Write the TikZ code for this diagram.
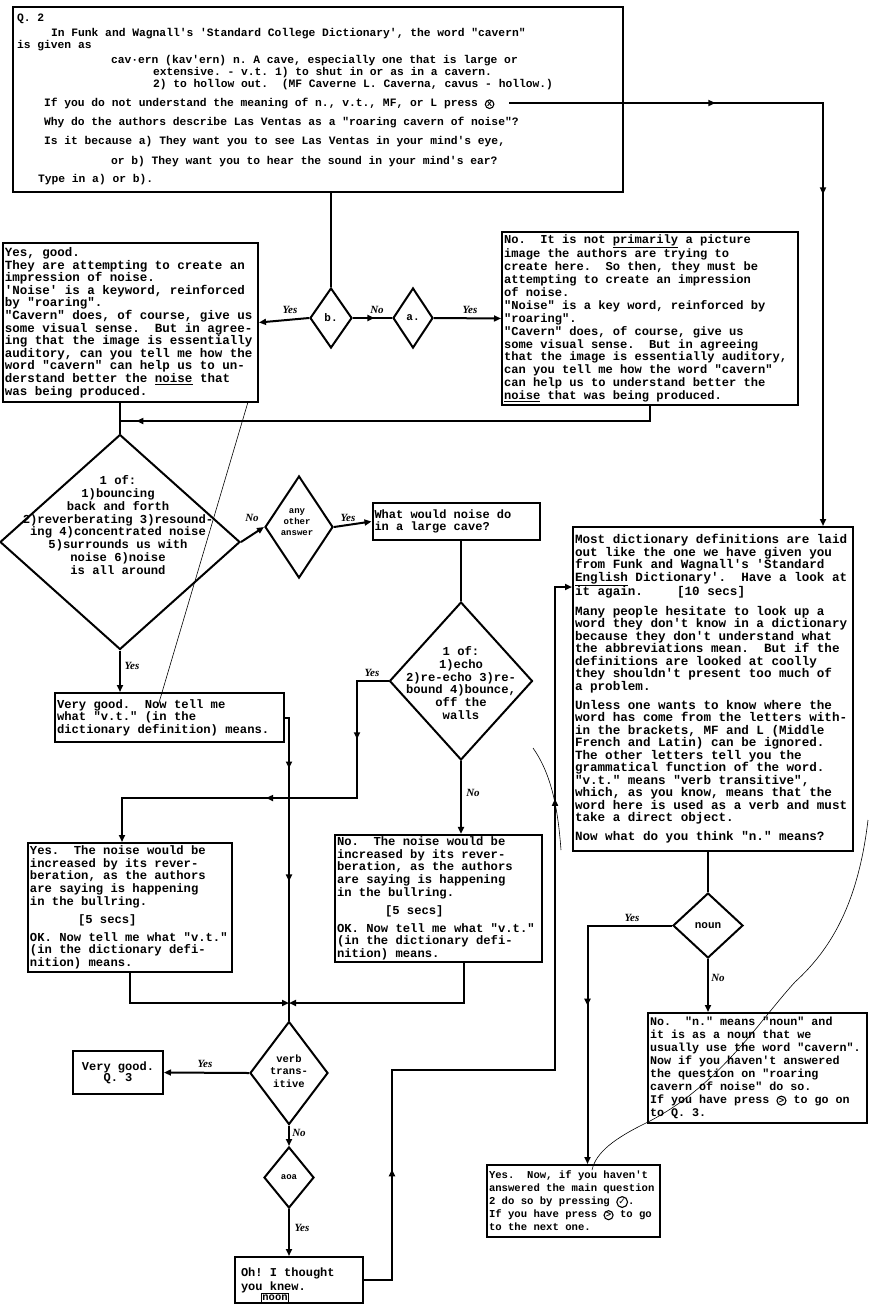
\documentclass[tikz,border=0pt]{standalone}
\usepackage{fontspec}
\setmainfont{Liberation Serif}
\setmonofont{Liberation Mono}
\newfontfamily\handfont{Liberation Serif}
\newfontfamily\symfont{DejaVu Sans}
\usepackage{tikz}
\usetikzlibrary{arrows.meta, shapes.geometric, decorations.markings}

% typewriter text with full-width spaces
\newcommand\typed[2]{\ttfamily\bfseries\fontsize{#1}{#2}\selectfont}
\newcommand\fullspaces{\spaceskip=0.6em\xspaceskip=0.6em\relax}
\newcommand\keyring[1]{\tikz[baseline=(keyglyph.base)]\node[draw, circle, line width=1.1pt, inner sep=0.5pt,
    minimum width=0pt, minimum height=0pt, text width=, align=center,
    font=\typed{9}{9}] (keyglyph) {#1};}

\begin{document}
\begin{tikzpicture}[x=1pt, y=-1pt,
        card/.style={draw, line width=2pt, align=left, inner sep=2pt,
                    font=\typed{12.2}{12.6}, execute at begin node=\fullspaces},
        choice/.style={draw, diamond, line width=2pt, inner sep=0pt,
                    font=\typed{11}{11}},
        dtext/.style={align=center, inner sep=0pt, font=\typed{12.2}{12.9},
                    execute at begin node=\fullspaces},
        wire/.style={line width=2pt},
        tip/.style={-{Triangle[length=7pt, width=6pt]}},
        midarr/.style={postaction={decorate, decoration={markings,
                    mark=at position #1 with {\arrow{Triangle[length=7pt, width=6pt]}}}}},
        ans/.style={font=\handfont\itshape\bfseries\fontsize{11}{11}\selectfont, inner sep=1pt},
        pencil/.style={line width=0.6pt}]

        \useasboundingbox (0,0) rectangle (870,1310);

        % Question frame
        \node[card, font=\typed{11.3}{12}, inner sep=4pt,
              text width=602pt, minimum height=185pt] (qbox) at (318,99.5) {Q. 2\\[3pt]
\hspace*{34pt}In Funk and Wagnall's 'Standard College Dictionary', the word "cavern"\\
is given as\\[3pt]
\hspace*{94pt}cav·ern (kav'ern) n. A cave, especially one that is large or\\
\hspace*{136pt}extensive. - v.t. 1) to shut in or as in a cavern.\\
\hspace*{136pt}2) to hollow out.~ (MF Caverne L. Caverna, cavus - hollow.)\\[7pt]
\hspace*{27pt}If you do not understand the meaning of n., v.t., MF, or L press \keyring{x}\\[7pt]
\hspace*{27pt}Why do the authors describe Las Ventas as a "roaring cavern of noise"?\\[7pt]
\hspace*{27pt}Is it because a) They want you to see Las Ventas in your mind's eye,\\[8pt]
\hspace*{94pt}or b) They want you to hear the sound in your mind's ear?\\[6pt]
\hspace*{21pt}Type in a) or b).};
        \coordinate (pressx) at (509,103);

        % First answer
        \node[choice, minimum width=42pt, minimum height=60pt] (bdia) at (331,318) {b.};
        \node[choice, minimum width=40pt, minimum height=60pt] (adia) at (413,318) {a.};

        \node[card, font=\typed{12.5}{12.6},
              text width=251pt, minimum height=159pt] (yesgood) at (130.5,322.5) {Yes, good.\\
They are attempting to create an\\
impression of noise.\\
'Noise' is a keyword, reinforced\\
by "roaring".\\
"Cavern" does, of course, give us\\
some visual sense.~ But in agree-\\
ing that the image is essentially\\
auditory, can you tell me how the\\
word "cavern" can help us to un-\\
derstand better the \underline{noise} that\\
was being produced.};

        \node[card, font=\typed{12.1}{12.9},
              text width=292pt, minimum height=173pt] (nobox) at (650,318.5) {No.~ It is not \underline{primarily} a picture\\
image the authors are trying to\\
create here.~ So then, they must be\\
attempting to create an impression\\
of noise.\\
"Noise" is a key word, reinforced by\\
"roaring".\\
"Cavern" does, of course, give us\\
some visual sense.~ But in agreeing\\
that the image is essentially auditory,\\
can you tell me how the word "cavern"\\
can help us to understand better the\\
\underline{noise} that was being produced.};
        \coordinate (merge1) at (120,421);

        % Second question
        \node[choice, minimum width=240pt, minimum height=215pt] (oneof) at (120,542) {};
        \node[dtext] (oneoftxt) at (118,525) {1 of:\\1)bouncing\\back and forth\\2)reverberating 3)resound-\\ing 4)concentrated noise\\5)surrounds us with\\noise 6)noise\\is all around};
        \node[choice, minimum width=68pt, minimum height=102pt] (anyother) at (299,527) {};
        \node[dtext, font=\typed{9}{11}] (anyothertxt) at (297,522) {any\\other\\answer};
        \node[card, font=\typed{12}{12.5},
              text width=163pt, minimum height=37pt] (cave) at (456,521.5) {What would noise do\\in a large cave?};
        \node[choice, minimum width=143pt, minimum height=158pt] (echo) at (461,681) {};
        \node[dtext] (echotxt) at (461,683) {1 of:\\1)echo\\2)re-echo 3)re-\\bound 4)bounce,\\off the\\walls};
        \coordinate (yesbend) at (357,798);

        \node[card, text width=225pt, minimum height=49pt] (verygood) at (169.5,717.5) {Very good.~ Now tell me\\
what "v.t." (in the\\
dictionary definition) means.};

        \node[card, text width=200pt, minimum height=129pt] (yesnoise) at (130,907.5) {Yes.~ The noise would be\\
increased by its rever-\\
beration, as the authors\\
are saying is happening\\
in the bullring.\\[6pt]
\hspace*{48pt}[5 secs]\\[5pt]
OK. Now tell me what "v.t."\\
(in the dictionary defi-\\
nition) means.};

        \node[card, text width=203pt, minimum height=127pt] (nonoise) at (438.5,898.5) {No.~ The noise would be\\
increased by its rever-\\
beration, as the authors\\
are saying is happening\\
in the bullring.\\[6pt]
\hspace*{48pt}[5 secs]\\[5pt]
OK. Now tell me what "v.t."\\
(in the dictionary defi-\\
nition) means.};
        \coordinate (merge2) at (289,1003);

        % Verb transitive
        \node[choice, minimum width=78pt, minimum height=103pt] (verb) at (289,1073) {};
        \node[dtext, font=\typed{10.5}{12.5}] (verbtxt) at (289,1071) {verb\\trans-\\itive};
        \node[card, align=center, font=\typed{12}{11},
              text width=86pt, minimum height=43pt] (qthree) at (118,1072.5) {Very good.\\Q. 3};
        \node[choice, font=\typed{9}{13},
              minimum width=50pt, minimum height=61pt] (aoa) at (289,1177.5) {a\\o\\a};
        \node[card, font=\typed{12}{14}, inner xsep=6pt,
              text width=116pt, minimum height=46pt] (ohbox) at (299,1280) {Oh! I thought\\you knew.\\[12pt]};
        \node[draw, line width=1pt, inner sep=1.2pt, font=\typed{10.5}{10.5}]
              (noontag) at (275,1298) {noon};
        \coordinate (upA) at (392,1070);
        \coordinate (upB) at (555,1070);

        % Dictionary help
        \node[card, font=\typed{12.6}{12.45},
              text width=276pt, minimum height=324pt] (dict) at (713,689) {Most dictionary definitions are laid\\
out like the one we have given you\\
from Funk and Wagnall's 'Standard\\
\underline{English} Dictionary'.~ Have a look at\\
it again.\hspace*{34pt}[10 secs]\\[7pt]
Many people hesitate to look up a\\
word they don't know in a dictionary\\
because they don't understand what\\
the abbreviations mean.~ But if the\\
definitions are looked at coolly\\
they shouldn't present too much of\\
a problem.\\[7pt]
Unless one wants to know where the\\
word has come from the letters with-\\
in the brackets, MF and L (Middle\\
French and Latin) can be ignored.\\
The other letters tell you the\\
grammatical function of the word.\\
"v.t." means "verb transitive",\\
which, as you know, means that the\\
word here is used as a verb and must\\
take a direct object.\\[7pt]
Now what do you think "n." means?};

        \node[choice, minimum width=70pt, minimum height=65pt] (noun) at (708,925.5) {noun};
        \node[card, font=\typed{11.7}{12.9},
              text width=215pt, minimum height=110pt] (nobn) at (757.5,1068) {No.~ "n." means "noun" and\\
it is as a noun that we\\
usually use the word "cavern".\\
Now if you haven't answered\\
the question on "roaring\\
cavern of noise" do so.\\
If you have press \keyring{>} to go on\\
to Q. 3.};
        \node[card, font=\typed{10.6}{13},
              text width=169pt, minimum height=72pt] (yesnow) at (573.5,1201) {Yes.~ Now, if you haven't\\
answered the main question\\
2 do so by pressing \keyring{\symfont ✓}.\\
If you have press \keyring{>} to go\\
to the next one.};

        % Connectors
        \draw[wire] (bdia.north |- qbox.south) -- (bdia.north);
        \draw[wire, tip] (bdia.west) -- (yesgood.east);
        \draw[wire, midarr=0.55] (bdia.east) -- (adia.west);
        \draw[wire, tip] (adia.east) -- (nobox.west);
        \draw[wire, midarr=0.97] (nobox.south) |- (merge1);
        \draw[wire] (oneof.north |- yesgood.south) -- (oneof.north);
        \draw[wire, tip] (oneof.east) -- (anyother.west);
        \draw[wire, tip] (anyother.east) -- (cave.west);
        \draw[wire] (echo.north |- cave.south) -- (echo.north);
        \draw[wire, tip, midarr=0.21, midarr=0.56] (echo.west) -| (yesbend) -| ([xshift=-8pt]yesnoise.north);
        \draw[wire, tip] (echo.south) -- (echo.south |- nonoise.north);
        \draw[wire, tip] (oneof.south) -- (oneof.south |- verygood.north);
        \draw[wire, midarr=0.19, midarr=0.58] (verygood.east) -| (merge2);
        \draw[wire, tip] (yesnoise.south) |- (merge2);
        \draw[wire, tip] ([xshift=25pt]nonoise.south) |- (merge2);
        \draw[wire] (merge2) -- (verb.north);
        \draw[wire, tip] (verb.west) -- (qthree.east);
        \draw[wire, tip] (verb.south) -- (aoa.north);
        \draw[wire, tip] (aoa.south) -- (aoa.south |- ohbox.north);
        \draw[wire, tip, midarr=0.154, midarr=0.746] (ohbox.east) -| (upA) -- (upB) |- ([yshift=102pt]dict.west);
        \draw[wire, tip, midarr=0.28, midarr=0.55] (pressx) -| ([xshift=-31pt]dict.north east);
        \draw[wire] (noun.north |- dict.south) -- (noun.north);
        \draw[wire, tip, midarr=0.51] (noun.west) -| ([xshift=14pt]yesnow.north);
        \draw[wire, tip] (noun.south) -- (noun.south |- nobn.north);

        % Answer labels
        \node[ans] (lbA) at (290,310) {Yes};
        \node[ans] (lbB) at (377,310) {No};
        \node[ans] (lbC) at (470,310) {Yes};
        \node[ans] (lbD) at (252,518) {No};
        \node[ans] (lbE) at (348,518) {Yes};
        \node[ans] (lbF) at (372,673) {Yes};
        \node[ans] (lbG) at (473,793) {No};
        \node[ans] (lbH) at (132,666) {Yes};
        \node[ans] (lbI) at (205,1064) {Yes};
        \node[ans] (lbJ) at (299,1133) {No};
        \node[ans] (lbK) at (302,1228) {Yes};
        \node[ans] (lbL) at (632,918) {Yes};
        \node[ans] (lbM) at (718,978) {No};

        % Pencil strokes
        \draw[pencil] (248,402) -- (158,706);
        \draw[pencil] (868,820) .. controls (858,905) and (830,950) .. (795,982)
                      .. controls (760,1020) and (720,1085) .. (648,1122)
                      .. controls (615,1138) and (596,1152) .. (592,1170);
        \draw[pencil] (533,748) .. controls (552,775) and (558,810) .. (561,850);
      \end{tikzpicture}
\end{document}
